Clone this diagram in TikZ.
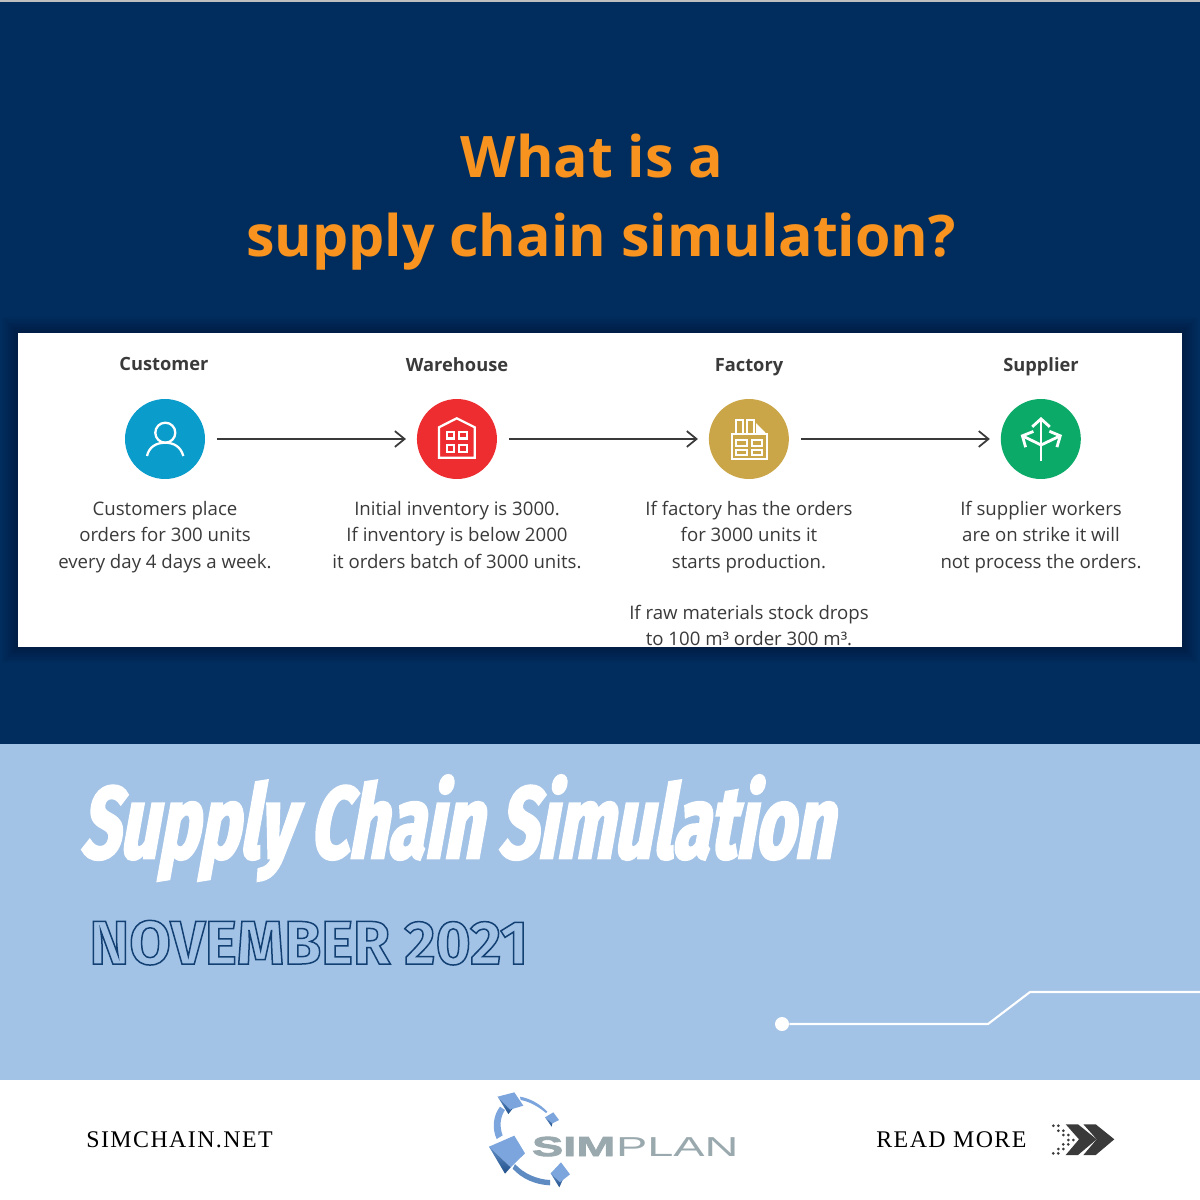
\documentclass[tikz,border=0pt]{standalone}
\usepackage{fontspec}
\usepackage{tikz}
\usetikzlibrary{positioning,arrows.meta}
\setmainfont{Open Sans}
\newfontfamily\bannerfont[FakeSlant=0.18,FakeStretch=0.665]{Fira Sans}
\newfontfamily\monthfont[FakeStretch=0.98]{Fira Sans}
\newfontfamily\footfont[LetterSpace=6]{Liberation Serif}
\newfontfamily\logofont[FakeStretch=1.71]{Liberation Sans}
\definecolor{navy}{HTML}{012D5E}
\definecolor{paleblue}{HTML}{A2C2E6}
\definecolor{titleorange}{HTML}{F7931E}
\definecolor{inkgray}{HTML}{3A3A3A}
\definecolor{custblue}{HTML}{0A9CCB}
\definecolor{housered}{HTML}{EE2D30}
\definecolor{factgold}{HTML}{CBA648}
\definecolor{suppgreen}{HTML}{0BAA68}
\definecolor{logoblue}{HTML}{7BA5DC}
\definecolor{logodark}{HTML}{1F4F8A}
\definecolor{logogray}{HTML}{9AA9AE}
\newcommand{\outlined}[1]{\special{pdf:code q 1 Tr 0.85 w 0.07 0.25 0.45 RG}#1\special{pdf:code Q}}
\newcommand{\thickened}[1]{\special{pdf:code q 2 Tr 1.6 w 1 1 1 RG}#1\special{pdf:code Q}}
\newcommand{\thickenedgray}[1]{\special{pdf:code q 2 Tr 0.5 w 0.604 0.663 0.682 RG}#1\special{pdf:code Q}}
\tikzset{
	stage/.style={circle,minimum size=1.6cm,inner sep=0pt,outer sep=0pt},
	stagehead/.style={font=\fontsize{10.4}{12}\selectfont\bfseries,text=inkgray,inner sep=0pt,anchor=base},
	stagetext/.style={font=\fontsize{10.6}{15}\selectfont,text=inkgray,align=center,inner sep=0pt,anchor=north},
	titletext/.style={font=\fontsize{32.6}{36}\selectfont\bfseries,text=titleorange,inner sep=0pt,anchor=base},
	flow/.style={-{Straight Barb[length=5.5pt,width=9pt]},line width=1pt,draw=inkgray,shorten <=0.24cm,shorten >=0.22cm},
	icon/.style={draw=white,line width=1.3pt},
	iconarrow/.style={icon,line width=1.6pt,-{Straight Barb[length=4.5pt,width=10pt]}},
	foottext/.style={font=\footfont\fontsize{13.6}{16}\selectfont,text=black,anchor=west,inner sep=0pt},
	logolight/.style={fill=logoblue,draw=none},
	logoshade/.style={top color=logoblue!75!logodark,bottom color=logodark,draw=none}
}
\begin{document}
\begin{tikzpicture}[x=0.02cm,y=-0.02cm]

\useasboundingbox (0,0) rectangle (1200,1200);
\fill[black!25] (0,0) rectangle (1200,2);
\fill[navy] (0,2) rectangle (1200,744);
\fill[paleblue] (0,744) rectangle (1200,1080);

\node[titletext] (titletop) at (592,177) {What is a};
\node[titletext] (titlebottom) at (601,256) {supply chain simulation?};

\foreach \spread in {2,4,...,16}
	\fill[black,opacity=0.03] (18-\spread,333-\spread) rectangle (1182+\spread,647+\spread);
\fill[white] (18,333) rectangle (1182,647);

\node[stage,fill=custblue] (customer) at (165,439) {};
\node[stage,fill=housered,right=4.24cm of customer] (warehouse) {};
\node[stage,fill=factgold,right=4.24cm of warehouse] (factory) {};
\node[stage,fill=suppgreen,right=4.24cm of factory] (supplier) {};

\node[stagehead] (customerhead) at (164,370) {Customer};
\node[stagehead] (warehousehead) at (457,371) {Warehouse};
\node[stagehead] (factoryhead) at (749,371) {Factory};
\node[stagehead] (supplierhead) at (1041,371) {Supplier};

\node[stagetext] (customertext) at (165,501) {Customers place\\orders for 300 units\\every day 4 days a week.};
\node[stagetext] (warehousetext) at (457,501) {Initial inventory is 3000.\\If inventory is below 2000\\it orders batch of 3000 units.};
\node[stagetext] (factorytext) at (749,501) {If factory has the orders\\for 3000 units it\\starts production.};
\node[stagetext] (suppliertext) at (1041,501) {If supplier workers\\are on strike it will\\not process the orders.};
\begin{scope}
	\clip (18,333) rectangle (1182,647);
	\node[stagetext] (rawtext) at (749,605) {If raw materials stock drops\\to 100 m³ order 300 m³.};
\end{scope}

\draw[flow] (customer) -- (warehouse);
\draw[flow] (warehouse) -- (factory);
\draw[flow] (factory) -- (supplier);

\draw[icon] (165.3,432.7) circle (10);
\draw[icon] (147,456) .. controls (149,447) and (156,442.7) .. (165.3,442.7) .. controls (174,442.7) and (181,447) .. (183.3,456);

\draw[icon] (439,457.7) -- (439,427.3) -- (456.7,418.3) -- (474.7,427.3) -- (474.7,457.7) -- cycle;
\foreach \wx/\wy in {446.7/431.7,459.3/431.7,446.7/445,459.3/445}
	\draw[icon] (\wx,\wy) rectangle +(7.4,6.7);

\draw[icon] (731.7,434) rectangle (766.7,459);
\draw[icon] (736,434) -- (736,420) -- (743,420) -- (743,434);
\draw[icon] (746.7,434) -- (746.7,420) -- (753.7,420) -- (753.7,434);
\fill[white] (756,423) -- (766.7,434) -- (756,434) -- cycle;
\foreach \wx/\wy/\ww/\wh in {736/440/11.3/6,751.7/440/10/6,736/450/11.3/5,751.7/450/10/5}
	\draw[icon] (\wx,\wy) rectangle +(\ww,\wh);

\draw[iconarrow] (1041,461) -- (1041,417);
\draw[iconarrow] (1041,445) -- (1020.7,435);
\draw[iconarrow] (1041,445) -- (1062,435);

\node[font=\bannerfont\fontsize{58}{60}\selectfont\bfseries,text=white,anchor=base west,inner sep=0pt] (banner) at (80,858) {\thickened{Supply Chain Simulation}};
\node[font=\monthfont\fontsize{35}{36}\selectfont\bfseries,anchor=base west,inner sep=0pt] (month) at (89,964) {\outlined{NOVEMBER 2021}};

\node[circle,fill=white,minimum size=0.28cm,inner sep=0pt] (dot) at (782,1024) {};
\coordinate (bend) at (988,1024);
\coordinate (rise) at (1030,992);
\coordinate (edge) at (1200,992);
\draw[white,line width=1.2pt] (dot) -- (bend) -- (rise) -- (edge);

\node[foottext] (site) at (86,1140) {SIMCHAIN.NET};
\node[foottext] (more) at (876,1140) {READ MORE};

\foreach \chevx in {0,17.7}
	\fill[inkgray,shift={(\chevx,0)}] (1065.7,1124.3) -- (1078,1124.3) -- (1096.6,1139.3) -- (1078,1155) -- (1065.7,1155) -- (1079,1139.3) -- cycle;
\foreach \dotx/\doty in {1053.3/1125.7,1058.3/1125.7,1058.3/1130.7,1063.3/1130.7,1063.3/1135,1068.3/1135,1068.3/1140,1073.3/1140,1068.3/1144.3,1063.3/1144.3,1063.3/1149,1058.3/1149,1058.3/1153.3,1053.3/1153.3}
	\fill[inkgray] (\dotx,\doty) circle (1.5);

\begin{scope}[shift={(470,1080)},x=0.00667cm,y=-0.00667cm]
	\fill[logolight] (57,200) -- (133,167) -- (165,220) -- (122,262) -- cycle;
	\shade[logoshade] (57,200) -- (122,262) -- (105,281) -- cycle;
	\fill[logolight] (83,50) -- (133,37) -- (160,77) -- (120,89) -- cycle;
	\shade[logoshade] (83,50) -- (120,89) -- (128,86) -- (115,102) -- cycle;
	\fill[logolight] (225,112) -- (250,97) -- (267,120) -- (247,130) -- cycle;
	\shade[logoshade] (225,112) -- (247,130) -- (245,140) -- cycle;
	\fill[logolight] (242,280) -- (273,247) -- (300,283) -- (270,307) -- cycle;
	\shade[logoshade] (242,280) -- (270,307) -- (278,300) -- (268,322) -- cycle;
	\fill[logolight] (90,80) .. controls (70,105) and (65,145) .. (80,177) -- (98,166) .. controls (88,140) and (90,112) .. (105,90) -- cycle;
	\fill[logolight] (150,50) .. controls (180,55) and (210,72) .. (232,95) -- (228,99) .. controls (205,80) and (180,65) .. (152,60) -- cycle;
	\fill[logoblue!70!logodark] (135,252) .. controls (160,280) and (200,298) .. (240,300) -- (240,316) .. controls (195,314) and (155,296) .. (128,266) -- cycle;
	\node[font=\logofont\fontsize{15.6}{16}\selectfont\bfseries,text=logogray,anchor=base west,inner sep=0pt] (logosim) at (185,228) {\thickenedgray{SIM}};
	\node[font=\logofont\fontsize{15.6}{16}\selectfont,text=logogray,anchor=base west,inner sep=0pt] (logoplan) at (logosim.base east) {PLAN};
\end{scope}

\end{tikzpicture}
\end{document}
